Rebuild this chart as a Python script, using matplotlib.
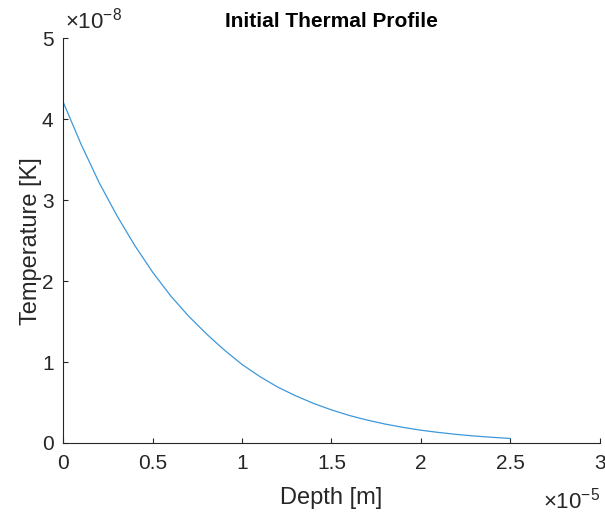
import matplotlib
matplotlib.use("Agg")
from matplotlib import pyplot as plt
from matplotlib.ticker import FuncFormatter

# values (depth in 1e-5 m, temperature in 1e-8 K)
depth = [0, 0.1, 0.2, 0.3, 0.4, 0.5, 0.6, 0.7, 0.8, 0.9, 1.0, 1.1, 1.2,
         1.3, 1.4, 1.5, 1.6, 1.7, 1.8, 1.9, 2.0, 2.1, 2.2, 2.3, 2.4, 2.5]
temp = [4.21, 3.69, 3.22, 2.81, 2.44, 2.11, 1.82, 1.57, 1.35, 1.15, 0.97,
        0.82, 0.69, 0.583, 0.489, 0.409, 0.34, 0.283, 0.234, 0.193, 0.158,
        0.13, 0.106, 0.086, 0.07, 0.056]
x_ticks = [0, 0.5, 1, 1.5, 2, 2.5, 3]
y_ticks = [0, 1, 2, 3, 4, 5]

plt.rcParams['font.family'] = ['Liberation Sans', 'DejaVu Sans']
plt.rcParams['mathtext.fontset'] = 'custom'
plt.rcParams['mathtext.rm'] = 'Liberation Sans'
plt.rcParams['mathtext.it'] = 'Liberation Sans'

axcol = '#262626'
fig = plt.figure(figsize=(6.05, 5.18), dpi=100)
ax = fig.add_axes([0.1046, 0.1448, 0.8866, 0.781])

x = [d * 1e-5 for d in depth]
y = [t * 1e-8 for t in temp]
ax.plot(x, y, color='#3d98da', lw=0.9, solid_joinstyle='round')

ax.set_xlim(0, 3e-5)
ax.set_ylim(0, 5e-8)
ax.set_xticks([v * 1e-5 for v in x_ticks])
ax.set_yticks([v * 1e-8 for v in y_ticks])
ax.xaxis.set_major_formatter(FuncFormatter(lambda v, p: f"{v / 1e-5:g}"))
ax.yaxis.set_major_formatter(FuncFormatter(lambda v, p: f"{v / 1e-8:g}"))

for s in ['top', 'right']:
    ax.spines[s].set_visible(False)
for s in ['left', 'bottom']:
    ax.spines[s].set_color(axcol)
    ax.spines[s].set_linewidth(0.8)
ax.tick_params(direction='in', length=3.5, width=0.8, color=axcol,
               labelcolor=axcol, labelsize=15)
ax.tick_params(axis='x', pad=8)
ax.tick_params(axis='y', pad=7)

ax.set_xlabel("Depth [m]", fontsize=17, color=axcol, labelpad=10)
ax.set_ylabel("Temperature [K]", fontsize=17, color=axcol, labelpad=0)
ax.set_title("Initial Thermal Profile", fontsize=15, fontweight='bold',
             color='black', pad=8)

fig.text(0.107, 0.935, r"$\times10^{-8}$", fontsize=16, color=axcol,
         ha='left', va='bottom')
fig.text(0.992, 0.008, r"$\times10^{-5}$", fontsize=16, color=axcol,
         ha='right', va='bottom')

fig.savefig("out.png", dpi=100)
